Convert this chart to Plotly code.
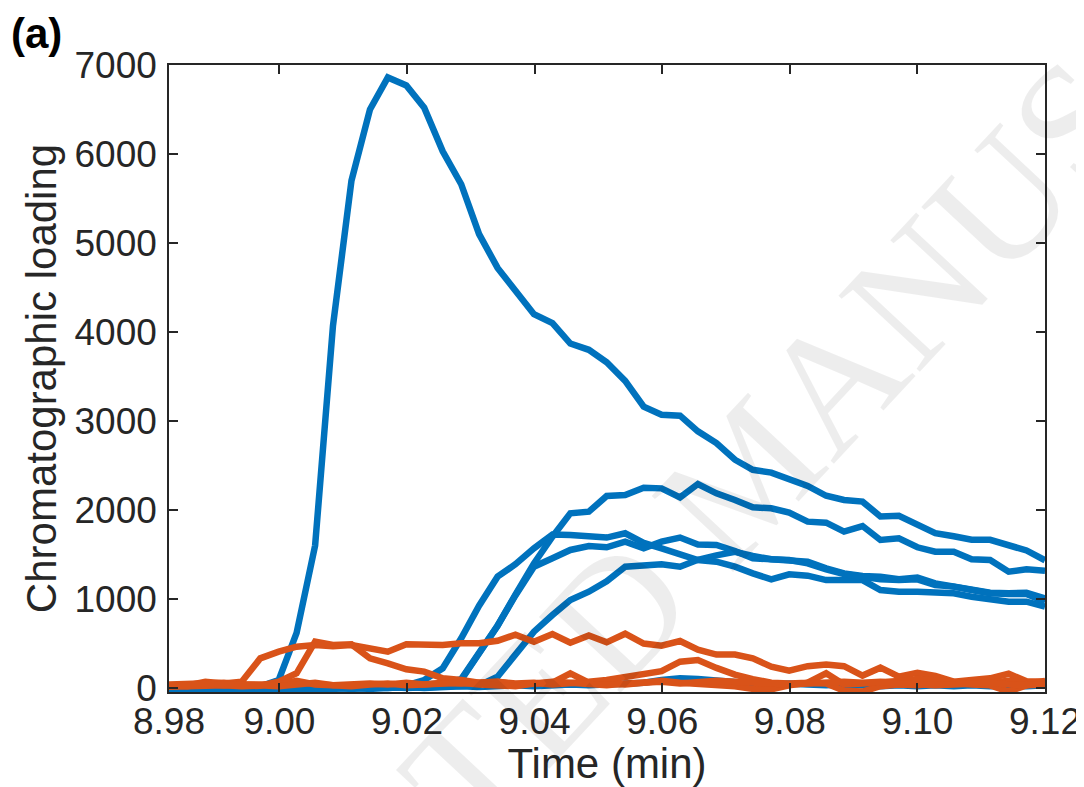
import plotly.graph_objects as go

# Time axis (min)
time_min = [8.9827, 8.9856, 8.9884, 8.9913, 8.9941, 8.9970, 8.9999, 9.0027, 9.0056, 9.0084,
            9.0113, 9.0142, 9.0170, 9.0199, 9.0227, 9.0256, 9.0285, 9.0313, 9.0342, 9.0370,
            9.0399, 9.0428, 9.0456, 9.0485, 9.0513, 9.0542, 9.0571, 9.0599, 9.0628, 9.0656,
            9.0685, 9.0714, 9.0742, 9.0771, 9.0799, 9.0828, 9.0857, 9.0885, 9.0914, 9.0942,
            9.0971, 9.1000, 9.1028, 9.1057, 9.1085, 9.1114, 9.1143, 9.1171, 9.1200]

# Blue loadings
blue_1 = [10, 0, -20, 0, 10, 20, 90, 620, 1600, 4070,
          5700, 6500, 6860, 6770, 6520, 6030, 5660, 5100, 4720, 4460,
          4200, 4100, 3870, 3800, 3660, 3450, 3160, 3070, 3060, 2884,
          2752, 2565, 2452, 2420, 2340, 2270, 2160, 2112, 2094, 1927,
          1935, 1834, 1740, 1705, 1665, 1665, 1600, 1545, 1435]
blue_2 = [0, -20, 10, 0, -10, 0, 10, -30, 0, 10,
          0, 10, 20, 20, 30, 50, 100, 380, 700, 1050,
          1400, 1700, 1963, 1981, 2157, 2169, 2250, 2243, 2142, 2292,
          2187, 2112, 2030, 2019, 1970, 1869, 1858, 1757, 1820, 1663,
          1682, 1581, 1532, 1532, 1446, 1438, 1307, 1334, 1318]
blue_3 = [-20, -30, -10, -20, 0, -10, 0, -20, 10, 0,
          10, 0, 20, 30, 90, 221, 558, 925, 1251, 1390,
          1569, 1725, 1720, 1705, 1690, 1738, 1630, 1569, 1494, 1438,
          1419, 1363, 1288, 1221, 1277, 1262, 1213, 1213, 1213, 1101,
          1082, 1082, 1082, 1064, 1026, 989, 970, 970, 914]
blue_4 = [-10, 0, -30, -10, 0, -20, -10, 0, -10, 10,
          0, 10, 0, 10, 20, 30, 90, 390, 700, 1040,
          1363, 1457, 1551, 1596, 1581, 1644, 1570, 1644, 1690, 1612,
          1607, 1540, 1457, 1446, 1440, 1419, 1345, 1288, 1258, 1251,
          1221, 1240, 1176, 1139, 1120, 1071, 1064, 1071, 1007]
blue_5 = [0, -10, 0, -20, -10, 0, -20, -40, -10, 0,
          -10, 0, 10, 0, 10, 20, 20, 30, 127, 390,
          633, 820, 989, 1082, 1200, 1363, 1386, 1390, 1363, 1440,
          1490, 1530, 1483, 1446, 1438, 1401, 1334, 1281, 1251, 1221,
          1213, 1221, 1157, 1139, 1101, 1064, 1056, 1056, 970]
blue_6 = [-30, -40, -20, -30, -20, -30, -20, -10, -20, -10,
          0, -10, 0, 10, 0, 10, 20, 10, 20, 30,
          20, 30, 40, 30, 40, 40, 60, 90, 110, 100,
          80, 60, 50, 40, 50, 40, 30, 40, 30, 20,
          30, 20, 30, 20, 30, 20, 30, 20, 30]

# Orange loadings
orange_1 = [25, 30, 70, 50, 71, 333, 408, 464, 483, 470,
            483, 446, 408, 491, 491, 483, 502, 502, 530, 600,
            520, 607, 509, 590, 513, 610, 500, 475, 528, 430,
            376, 376, 333, 240, 195, 245, 265, 245, 140, 228,
            127, 172, 135, 71, 90, 109, 160, 75, 70]
orange_2 = [15, 20, 40, 30, 20, 25, 71, 165, 521, 483,
            491, 333, 277, 210, 184, 109, 90, 60, 70, 40,
            50, 60, 165, 60, 50, 40, 60, 80, 60, 50,
            40, 20, -10, -15, 30, 60, 50, -30, -40, 20,
            40, 30, 50, 60, 40, 30, -40, 30, 70]
orange_3 = [40, 45, 50, 60, 40, 45, 40, 80, 40, 30,
            40, 50, 40, 60, 40, 60, 50, 60, 70, 50,
            60, 40, 50, 70, 90, 120, 150, 190, 296, 315,
            226, 150, 100, 60, 50, 60, 165, 40, 50, 60,
            80, 100, 80, 60, 50, 60, 80, 50, 80]
orange_4 = [30, 20, 50, 30, 40, 30, 20, 40, 60, 30,
            20, 40, 50, 30, 40, 50, 60, 40, 30, 20,
            50, 70, 60, 40, 30, 50, 60, 70, 50, 60,
            80, 70, 60, 50, 40, 50, 60, 70, 60, 70,
            50, 40, 30, 40, 50, 60, 40, 30, 40]

x_tick_vals = [8.9827, 9.00, 9.02, 9.04, 9.06, 9.08, 9.10, 9.12]
x_tick_text = ["8.98", "9.00", "9.02", "9.04", "9.06", "9.08", "9.10", "9.12"]
y_tick_vals = [0, 1000, 2000, 3000, 4000, 5000, 6000, 7000]

BLUE = "#0072BD"
ORANGE = "#D95319"
AXC = "#262626"
FONT = "Liberation Sans, Arial, Helvetica, sans-serif"

fig = go.Figure()
for s in [blue_1, blue_2, blue_3, blue_4, blue_5, blue_6]:
    fig.add_trace(go.Scatter(x=time_min, y=s, mode="lines",
                             line=dict(color=BLUE, width=6.5), showlegend=False))
for s in [orange_1, orange_2, orange_3, orange_4]:
    fig.add_trace(go.Scatter(x=time_min, y=s, mode="lines",
                             line=dict(color=ORANGE, width=6.5), showlegend=False))

axis_common = dict(showline=True, linecolor=AXC, linewidth=1.5, mirror="ticks",
                   ticks="inside", ticklen=9, tickwidth=1.5, tickcolor=AXC,
                   showgrid=False, zeroline=False,
                   tickfont=dict(family=FONT, size=37, color=AXC))

fig.update_xaxes(range=[8.9827, 9.12], tickvals=x_tick_vals, ticktext=x_tick_text,
                 ticklabelstandoff=-4,
                 title=dict(text="Time (min)", standoff=9,
                            font=dict(family=FONT, size=42, color=AXC)),
                 **axis_common)
fig.update_yaxes(range=[-45, 7000], tickvals=y_tick_vals,
                 ticklabelstandoff=3,
                 title=dict(text="Chromatographic loading", standoff=5,
                            font=dict(family=FONT, size=42, color=AXC)),
                 **axis_common)

fig.add_annotation(text="<b>(a)</b>", xref="paper", yref="paper",
                   x=-0.151, y=1.0905, xanchor="center", yanchor="top", showarrow=False,
                   font=dict(family=FONT, size=42, color="black"))

fig.add_annotation(text="ACCEPTED MANUSCRIPT", xref="paper", yref="paper",
                   x=0.66, y=0.35, xanchor="center", yanchor="middle", showarrow=False,
                   textangle=-47,
                   font=dict(family="Liberation Serif, DejaVu Serif, serif", size=170,
                             color="rgba(0,0,0,0.07)"))

# the page body adds an 8 px offset, so the figure is sized to fit the window
fig.update_layout(width=1076, height=779,
                  margin=dict(l=161, r=39, t=57, b=95, autoexpand=False),
                  paper_bgcolor="white", plot_bgcolor="white")

fig.write_html("out.html")
